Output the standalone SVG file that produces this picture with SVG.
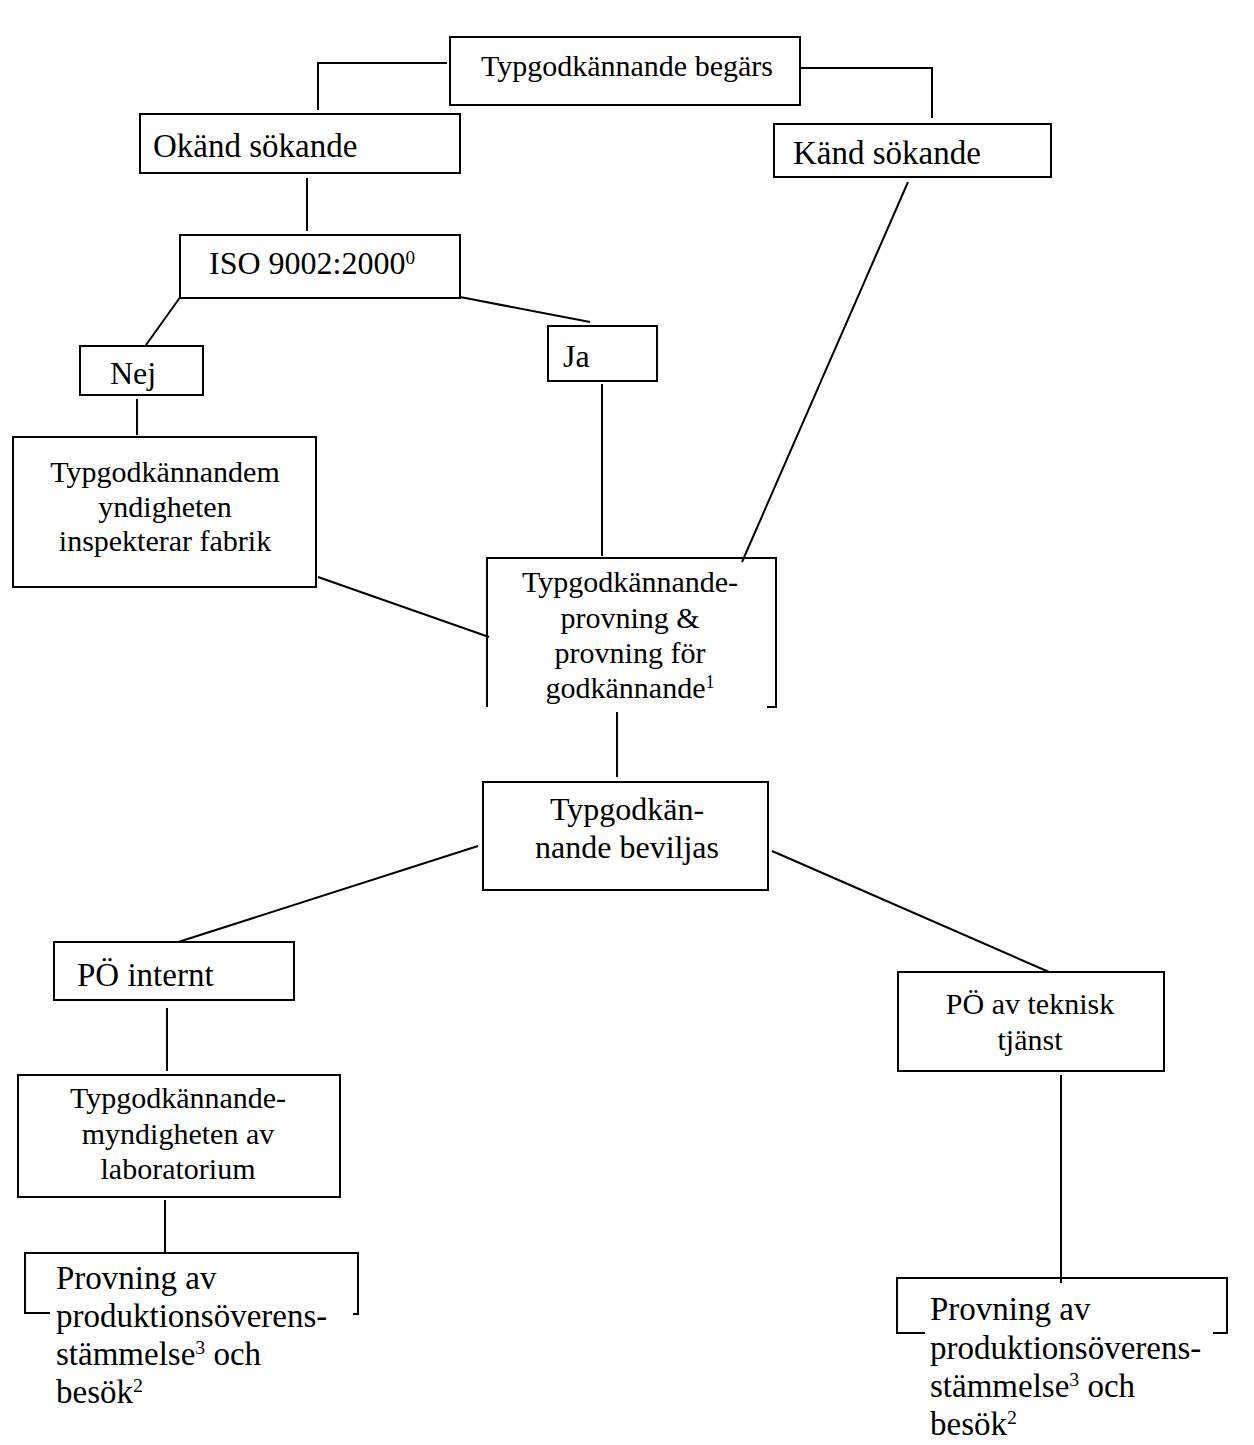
<svg xmlns="http://www.w3.org/2000/svg" width="1254" height="1445" viewBox="0 0 1254 1445">
<style>
.b{fill:#fff;stroke:#000;stroke-width:2}
.o{fill:none;stroke:#000;stroke-width:2}
.c line{stroke:#000;stroke-width:2}
text{font-family:"Liberation Serif","Times New Roman",serif;fill:#000}
.m{text-anchor:middle}
.s{font-size:60%;baseline-shift:super}
</style>
<rect width="1254" height="1445" fill="#fff"/>
<g id="connectors" class="c">
<line x1="318" y1="63" x2="447" y2="63"/>
<line x1="318" y1="62" x2="318" y2="110"/>
<line x1="800" y1="68" x2="933" y2="68"/>
<line x1="932" y1="67" x2="932" y2="118"/>
<line x1="307" y1="178" x2="307" y2="231"/>
<line x1="181" y1="296" x2="146" y2="345"/>
<line x1="460" y1="297" x2="590" y2="322"/>
<line x1="137" y1="399" x2="137" y2="435"/>
<line x1="602" y1="384" x2="602" y2="556"/>
<line x1="908" y1="182" x2="742" y2="562"/>
<line x1="318" y1="577" x2="489" y2="637"/>
<line x1="617" y1="712" x2="617" y2="777"/>
<line x1="478" y1="846" x2="172" y2="944"/>
<line x1="772" y1="851" x2="1056" y2="975"/>
<line x1="167" y1="1008" x2="167" y2="1071"/>
<line x1="165" y1="1200" x2="165" y2="1253"/>
<line x1="1061" y1="1075" x2="1061" y2="1283"/>
</g>
<g id="n_begars"><rect class="b" x="450" y="37" width="350" height="68"/><text class="m" x="627" y="76" font-size="30">Typgodkännande begärs</text></g>
<g id="n_okand"><rect class="b" x="140" y="114" width="320" height="59"/><text x="153" y="157" font-size="33">Okänd sökande</text></g>
<g id="n_kand"><rect class="b" x="774" y="124" width="277" height="53"/><text x="793" y="164" font-size="33">Känd sökande</text></g>
<g id="n_iso"><rect class="b" x="180" y="235" width="280" height="63"/><text x="209" y="274" font-size="32">ISO 9002:2000<tspan class="s">0</tspan></text></g>
<g id="n_nej"><rect class="b" x="80" y="346" width="123" height="49"/><text x="110" y="384" font-size="32">Nej</text></g>
<g id="n_ja"><rect class="b" x="548" y="326" width="109" height="55"/><text x="563" y="367" font-size="32">Ja</text></g>
<g id="n_inspekterar"><rect class="b" x="13" y="437" width="303" height="150"/><text class="m" font-size="30"><tspan x="165" y="482">Typgodkännandem</tspan><tspan x="165" y="517">yndigheten</tspan><tspan x="165" y="551">inspekterar fabrik</tspan></text></g>
<g id="n_provning"><path class="o" d="M487 707V558H776V707H767"/><text class="m" font-size="30"><tspan x="630" y="592">Typgodkännande-</tspan><tspan x="630" y="628">provning &amp;</tspan><tspan x="630" y="663">provning för</tspan><tspan x="630" y="698">godkännande<tspan class="s">1</tspan></tspan></text></g>
<g id="n_beviljas"><rect class="b" x="483" y="782" width="285" height="108"/><text class="m" font-size="32"><tspan x="627" y="820">Typgodkän-</tspan><tspan x="627" y="858">nande beviljas</tspan></text></g>
<g id="n_internt"><rect class="b" x="54" y="942" width="240" height="58"/><text x="77" y="986" font-size="33">PÖ internt</text></g>
<g id="n_lab"><rect class="b" x="18" y="1075" width="322" height="122"/><text class="m" font-size="30"><tspan x="178" y="1108">Typgodkännande-</tspan><tspan x="178" y="1144">myndigheten av</tspan><tspan x="178" y="1179">laboratorium</tspan></text></g>
<g id="n_teknisk"><rect class="b" x="898" y="972" width="266" height="99"/><text class="m" font-size="30"><tspan x="1030" y="1014">PÖ av teknisk</tspan><tspan x="1030" y="1050">tjänst</tspan></text></g>
<g id="n_pov_left"><path class="o" d="M50 1313H25V1253H358V1314H353"/><text font-size="33"><tspan x="56" y="1289">Provning av</tspan><tspan x="56" y="1327">produktionsöverens-</tspan><tspan x="56" y="1365">stämmelse<tspan class="s">3</tspan> och</tspan><tspan x="56" y="1403">besök<tspan class="s">2</tspan></tspan></text></g>
<g id="n_pov_right"><path class="o" d="M925 1333H897V1278H1227V1333H1213"/><text font-size="33"><tspan x="930" y="1320">Provning av</tspan><tspan x="930" y="1359">produktionsöverens-</tspan><tspan x="930" y="1397">stämmelse<tspan class="s">3</tspan> och</tspan><tspan x="930" y="1435">besök<tspan class="s">2</tspan></tspan></text></g>
</svg>
